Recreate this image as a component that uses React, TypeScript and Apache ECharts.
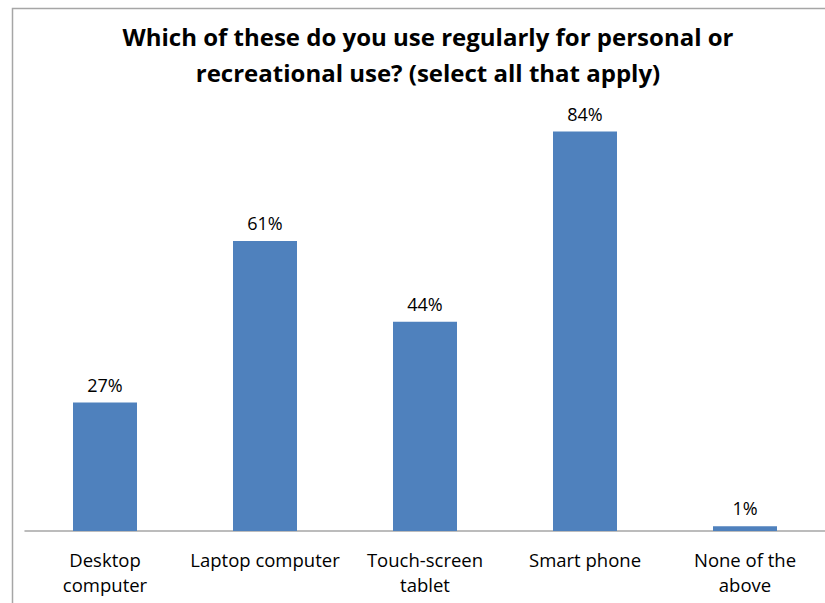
import React, { useEffect, useRef } from "react";
import * as echarts from "echarts";

const categories = [
  "Desktop\ncomputer",
  "Laptop computer",
  "Touch-screen\ntablet",
  "Smart phone",
  "None of the\nabove",
];
const values = [27, 61, 44, 84, 1];
const titleText =
  "Which of these do you use regularly for personal or\nrecreational use? (select all that apply)";

export default function App() {
  const ref = useRef<HTMLDivElement>(null);
  useEffect(() => {
    document.body.style.margin = "0";
    const chart = echarts.init(ref.current!, null, { renderer: "svg" });
    chart.setOption({
      animation: false,
      backgroundColor: "#ffffff",
      title: {
        text: titleText,
        left: 423,
        textAlign: "center",
        top: 13,
        itemGap: 0,
        textStyle: {
          fontFamily: "Open Sans",
          fontWeight: "bold",
          fontSize: 24,
          lineHeight: 36,
          color: "#000000",
        },
      },
      graphic: [
        {
          type: "rect",
          shape: { x: 12.5, y: 8.5, width: 900, height: 700 },
          style: { fill: "none", stroke: "#a6a6a6", lineWidth: 1.5 },
          silent: true,
        },
      ],
      grid: { left: 25, right: 0, top: 103, bottom: 72, containLabel: false },
      xAxis: {
        type: "category",
        data: categories,
        axisLine: { show: true, lineStyle: { color: "#a6a6a6", width: 1.5 } },
        axisTick: { show: false },
        axisLabel: {
          interval: 0,
          margin: 16,
          fontFamily: "Open Sans",
          fontSize: 18.5,
          lineHeight: 25,
          color: "#000000",
        },
      },
      yAxis: {
        type: "value",
        min: 0,
        max: 90,
        interval: 10,
        show: false,
        splitLine: { show: false },
      },
      series: [
        {
          type: "bar",
          data: values,
          barWidth: "40%",
          itemStyle: { color: "#4F81BD" },
          label: {
            show: true,
            position: "top",
            distance: 9,
            formatter: "{c}%",
            fontFamily: "Open Sans",
            fontSize: 18,
            color: "#000000",
          },
        },
      ],
    });
    return () => chart.dispose();
  }, []);
  return (
    <div
      ref={ref}
      style={{ position: "absolute", left: 0, top: 0, width: 825, height: 603 }}
    />
  );
}
